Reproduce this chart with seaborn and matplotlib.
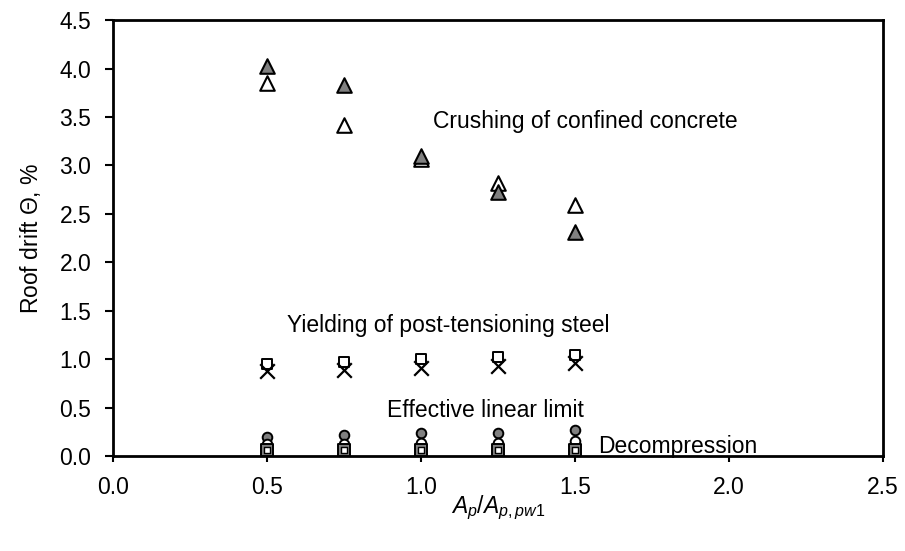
import matplotlib
matplotlib.use("Agg")
import matplotlib.pyplot as plt
import seaborn as sns

sns.set_theme(style="white")
plt.rcParams['font.family'] = ['Liberation Sans', 'DejaVu Sans']
plt.rcParams['mathtext.fontset'] = 'custom'
plt.rcParams['mathtext.rm'] = 'Liberation Sans'
plt.rcParams['mathtext.it'] = 'Liberation Sans:italic'
plt.rcParams['text.color'] = 'black'
plt.rcParams['axes.labelcolor'] = 'black'
plt.rcParams['xtick.color'] = 'black'
plt.rcParams['ytick.color'] = 'black'

ratio = [0.5, 0.75, 1.0, 1.25, 1.5]
crush_filled = [4.03, 3.83, 3.10, 2.73, 2.31]
crush_open = [3.85, 3.42, 3.07, 2.82, 2.59]
yield_square = [0.95, 0.97, 1.00, 1.02, 1.04]
yield_cross = [0.88, 0.89, 0.91, 0.93, 0.96]
lin_filled = [0.20, 0.22, 0.24, 0.24, 0.27]
lin_open = [0.12, 0.12, 0.13, 0.13, 0.15]
decomp_filled = [0.06, 0.06, 0.06, 0.06, 0.06]
decomp_open = [0.06, 0.06, 0.06, 0.06, 0.06]

x_ticks = [0.0, 0.5, 1.0, 1.5, 2.0, 2.5]
y_ticks = [0.0, 0.5, 1.0, 1.5, 2.0, 2.5, 3.0, 3.5, 4.0, 4.5]

fig = plt.figure(figsize=(9.05, 5.51), dpi=100)
ax = fig.add_axes([0.1245, 0.1725, 0.851, 0.791])

gray = "#808080"
kw = dict(ax=ax, legend=False, zorder=3)
sns.scatterplot(x=ratio, y=lin_filled, marker="o", s=48, color=gray, edgecolor="black", linewidth=1.4, **kw)
sns.scatterplot(x=ratio, y=lin_open, marker="o", s=48, color="white", edgecolor="black", linewidth=1.4, **kw)
sns.scatterplot(x=ratio, y=decomp_filled, marker="s", s=80, color=gray, edgecolor="black", linewidth=1.4, **kw)
sns.scatterplot(x=ratio, y=decomp_open, marker="s", s=16, color="white", edgecolor="black", linewidth=1.0, **kw)
sns.scatterplot(x=ratio, y=yield_square, marker="s", s=60, color="white", edgecolor="black", linewidth=1.4, **kw)
sns.scatterplot(x=ratio, y=yield_cross, marker="x", s=110, color="black", linewidth=1.6, **kw)
sns.scatterplot(x=ratio, y=crush_open, marker="^", s=110, color="white", edgecolor="black", linewidth=1.5, **kw)
sns.scatterplot(x=ratio, y=crush_filled, marker="^", s=110, color=gray, edgecolor="black", linewidth=1.5, **kw)

fs = 16.5
ax.text(1.04, 3.45, "Crushing of confined concrete", fontsize=fs, va="center", ha="left")
ax.text(0.565, 1.35, "Yielding of post-tensioning steel", fontsize=fs, va="center", ha="left")
ax.text(0.89, 0.47, "Effective linear limit", fontsize=fs, va="center", ha="left")
ax.text(1.575, 0.10, "Decompression", fontsize=fs, va="center", ha="left")

ax.set_xlim(0, 2.5)
ax.set_ylim(0, 4.5)
ax.set_xticks(x_ticks)
ax.set_xticklabels([f"{v:.1f}" for v in x_ticks])
ax.set_yticks(y_ticks)
ax.set_yticklabels([f"{v:.1f}" for v in y_ticks])
ax.tick_params(axis="both", direction="out", width=1.5, labelsize=fs, color="black",
               bottom=True, left=True)
ax.tick_params(axis="x", length=4.5, pad=10)
ax.tick_params(axis="y", length=5.5, pad=10)
for sp in ax.spines.values():
    sp.set_color("black")
    sp.set_linewidth(2)
ax.set_xlabel(r"$A_p/A_{p,pw1}$", fontsize=fs, labelpad=-4)
ax.set_ylabel(r"Roof drift $\mathit{\Theta}$, %", fontsize=fs, labelpad=12)
ax.grid(False)

fig.savefig("out.png", dpi=100, facecolor="white")
